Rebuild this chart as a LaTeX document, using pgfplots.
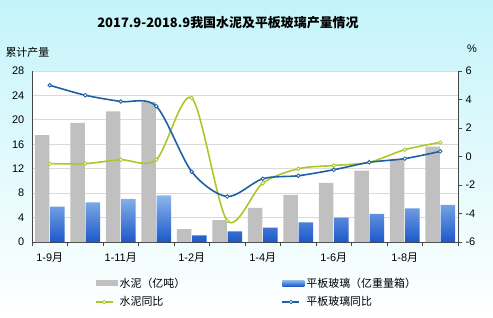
\documentclass[border=0pt]{standalone}
\usepackage{fontspec}
\setmainfont{Liberation Sans}
\newfontfamily\cjk{Noto Sans CJK SC}
\usepackage{pgfplots}
\pgfplotsset{compat=1.18}

\definecolor{bgcyan}{RGB}{196,244,250}
\definecolor{barGray}{RGB}{192,192,192}
\definecolor{barBlueTop}{RGB}{140,182,236}
\definecolor{barBlueBot}{RGB}{28,88,200}
\definecolor{lineGreen}{RGB}{170,200,40}
\definecolor{lineBlue}{RGB}{30,95,165}
\definecolor{gridc}{RGB}{218,218,218}
\definecolor{axisc}{RGB}{70,70,70}

\pgfplotstableread{
x cement glass cyoy gyoy
0 17.5 5.8 -0.50 5.00
1 19.5 6.5 -0.50 4.30
2 21.4 7.05 -0.23 3.86
3 22.9 7.65 -0.23 3.53
4 2.1 1.1 4.10 -1.07
5 3.6 1.75 -4.50 -2.81
6 5.6 2.35 -1.87 -1.56
7 7.7 3.2 -0.86 -1.35
8 9.7 4.0 -0.63 -0.93
9 11.7 4.6 -0.41 -0.41
10 13.6 5.5 0.48 -0.15
11 15.6 6.1 0.99 0.36
}\datatable

\begin{document}
\begin{tikzpicture}[x=1bp,y=1bp]
\shade[top color=bgcyan, bottom color=white] (0,0) rectangle (493,317);
\node[font=\cjk\bfseries\fontsize{13}{15}\selectfont] at (228,294) {2017.9-2018.9我国水泥及平板玻璃产量情况};
\node[font=\cjk\fontsize{11}{13}\selectfont, anchor=west] at (2,265) {累计产量};
\node[font=\fontsize{11}{13}\selectfont] at (472,268) {\%};

\begin{axis}[
  at={(32bp,75bp)}, anchor=south west, scale only axis,
  width=426bp, height=171bp,
  xmin=-0.5, xmax=11.5, ymin=0, ymax=28,
  ytick={0,4,...,28},
  axis y line*=left, axis x line*=bottom,
  axis line style={axisc, line width=0.8pt},
  xtick={0,2,4,6,8,10},
  xticklabels={1-9{\cjk 月},1-11{\cjk 月},1-2{\cjk 月},1-4{\cjk 月},1-6{\cjk 月},1-8{\cjk 月}},
  minor xtick={-0.5,0.5,...,11.5},
  major x tick style={draw=none},
  minor x tick style={axisc},
  minor tick length=4bp,
  tick align=outside,
  major y tick style={draw=none},
  ymajorgrids, grid style={gridc, line width=0.8pt},
  axis background/.style={fill=white},
  tick label style={font=\fontsize{11}{13}\selectfont},
  /pgf/number format/assume math mode=true,
  xticklabel style={yshift=-3bp},
  clip=false,
]
\addplot[ybar, bar width=14.5bp, bar shift=-7.6bp, draw=none, fill=barGray] table[x=x, y=cement] {\datatable};
\addplot[ybar, bar width=14.5bp, bar shift=7.6bp, draw=none, top color=barBlueTop, bottom color=barBlueBot] table[x=x, y=glass] {\datatable};
\end{axis}

\begin{axis}[
  at={(32bp,75bp)}, anchor=south west, scale only axis,
  width=426bp, height=171bp,
  xmin=-0.5, xmax=11.5, ymin=-6, ymax=6,
  ytick={-6,-4,...,6},
  axis y line*=right, axis x line=none,
  axis line style={axisc, line width=0.8pt},
  tick align=outside, major tick length=4bp,
  y tick style={axisc},
  tick label style={font=\fontsize{11}{13}\selectfont},
  /pgf/number format/assume math mode=true,
  legend columns=2,
  legend style={at={(0.14,-0.185)}, anchor=north west, draw=none, fill=none,
    font=\cjk\fontsize{11}{13}\selectfont, row sep=4bp},
  legend cell align=left,
  clip=false,
]
\addlegendimage{legend image code/.code={\fill[barGray, draw=none] (0bp,-3bp) rectangle (22bp,3bp);}}
\addlegendentry{\makebox[160bp][l]{水泥（亿吨）}}
\addlegendimage{legend image code/.code={\shade[draw=none, top color=barBlueTop, bottom color=barBlueBot] (0bp,-3bp) rectangle (22bp,3bp);}}
\addlegendentry{平板玻璃（亿重量箱）}
\addplot[lineGreen, line width=1.6pt, smooth, mark=*, mark size=1.8bp, mark options={fill=white, draw=lineGreen, line width=0.8pt}] table[x=x, y=cyoy] {\datatable};
\addlegendentry{\makebox[160bp][l]{水泥同比}}
\addplot[lineBlue, line width=1.6pt, smooth, mark=*, mark size=1.8bp, mark options={fill=white, draw=lineBlue, line width=0.8pt}] table[x=x, y=gyoy] {\datatable};
\addlegendentry{平板玻璃同比}
\end{axis}
\end{tikzpicture}
\end{document}
